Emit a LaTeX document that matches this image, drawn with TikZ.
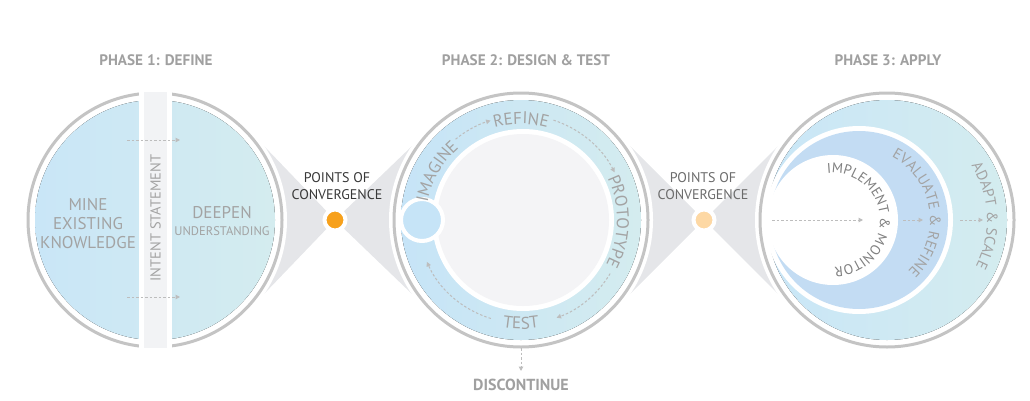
\documentclass[tikz,border=0pt]{standalone}
\usepackage{fontspec}
\setmainfont{PT Sans}
\usetikzlibrary{arrows.meta,decorations.text}

\definecolor{ringgray}{HTML}{C4C4C4}
\definecolor{wedgegray}{HTML}{E5E6E9}
\definecolor{labgray}{HTML}{A3A3A3}
\definecolor{titlegray}{HTML}{A0A0A0}
\definecolor{flowgray}{HTML}{BDBDBD}
\definecolor{skyblue}{HTML}{C9E6F7}
\definecolor{tealblue}{HTML}{D4ECEF}
\definecolor{midblue}{HTML}{C3DCF3}
\definecolor{bandgray}{HTML}{F2F3F5}
\definecolor{coregray}{HTML}{F4F4F6}
\definecolor{dotorange}{HTML}{F7A11C}
\definecolor{dotpeach}{HTML}{FDD8A4}
\definecolor{bubble}{HTML}{C6E4F7}

\newcommand\bigcurv{\fontsize{17}{17}\selectfont\color{labgray}}
\newcommand\smallcurv{\fontsize{15}{15}\selectfont\color{labgray}}
\newcommand\implcurv{\fontsize{14}{14}\selectfont\color{gray}}

\begin{document}
\begin{tikzpicture}[x=1pt, y=1pt,
    phasetitle/.style={font=\fontsize{15.2}{15.2}\selectfont\bfseries, text=titlegray, inner sep=0pt},
    lab/.style={text=labgray, align=center, inner sep=0pt},
    conv/.style={align=center, font=\fontsize{14}{17.5}\selectfont, inner sep=0pt},
    dot/.style={circle, draw=white, line width=4pt, minimum size=21pt, inner sep=0pt},
    ringline/.style={draw=ringgray, line width=3pt},
    flow/.style={draw=flowgray, line width=1pt, dash pattern=on 2.5pt off 2pt, -{Triangle[length=4.5pt,width=4.5pt]}},
    alongtext/.style={decorate, decoration={text along path, text align=center, text={#1}}}
]
\useasboundingbox (0,0) rectangle (1030,400);

% centres of the three phases and the two convergence points
\coordinate (p1) at (155,180);
\coordinate (p2) at (521,180);
\coordinate (p3) at (887,180);
\coordinate (c1) at (335,180);
\coordinate (c2) at (704,180);

% grey wedges behind the circles
\fill[wedgegray] (264,254) -- (c1) -- (264,106) -- cycle;
\fill[wedgegray] (412,254) -- (c1) -- (412,106) -- cycle;
\fill[wedgegray] (630,254) -- (c2) -- (630,106) -- cycle;
\fill[wedgegray] (778,254) -- (c2) -- (778,106) -- cycle;

% white halos and grey rings
\foreach \p in {p1,p2,p3} {
    \fill[white] (\p) circle (132);
    \draw[ringline] (\p) circle (127);
}

% Phase 1
\fill[left color=skyblue, right color=tealblue] (p1) circle (120);
\fill[white] (139,50) rectangle (172,310);
\fill[bandgray] (144,52) rectangle (167,308);
\node[lab, font=\fontsize{14.5}{14.5}\selectfont, rotate=90] (intent) at (155.5,182) {INTENT STATEMENT};
\node[lab, font=\fontsize{17}{19}\selectfont] (mine) at (88,176) {MINE\\EXISTING\\KNOWLEDGE};
\node[lab, font=\fontsize{17}{17}\selectfont] (deepen) at (222,187) {DEEPEN};
\node[lab, font=\fontsize{12.5}{12.5}\selectfont] (under) at (222,169) {UNDERSTANDING};
\coordinate (a1) at (127,260); \coordinate (b1) at (180,260);
\coordinate (a2) at (127,103); \coordinate (b2) at (180,103);
\draw[flow] (a1) -- (b1);
\draw[flow] (a2) -- (b2);

% Phase 2
\fill[left color=bubble, right color=tealblue] (p2) circle (120);
\fill[white] (523,180) circle (91);
\fill[coregray] (523,180) circle (86);
\filldraw[fill=bubble, draw=white, line width=4pt] (422,180) circle (21);
\path[alongtext={|\bigcurv|IMAGINE}] (p2) ++(195:95) arc (195:105:95);
\path[alongtext={|\bigcurv|REFINE}] (p2) ++(135:96) arc (135:45:96);
\path[alongtext={|\bigcurv|PROTOTYPE}] (p2) ++(45:96) arc (45:-47:96);
\path[alongtext={|\bigcurv|TEST}] (p2) ++(-125:109) arc (-125:-55:109);
\draw[flow] (p2) ++(129:104) arc (129:107:104);
\draw[flow] (p2) ++(72:105) arc (72:27:105);
\draw[flow] (p2) ++(-31:104) arc (-31:-70:104);
\draw[flow] (p2) ++(-107:103) arc (-107:-156:103);
\coordinate (dtop) at (521,52);
\coordinate (dend) at (521,29);
\draw[flow] (dtop) -- (dend);
\node[phasetitle, font=\fontsize{16}{16}\selectfont\bfseries] (disc) at (521,15) {DISCONTINUE};

% Phase 3
\fill[left color=skyblue, right color=tealblue] (p3) circle (120);
\fill[white] (859,180) circle (94);
\fill[midblue] (859,180) circle (89);
\fill[white] (833,180) circle (65);
\path[alongtext={|\implcurv|IMPLEMENT {\&} MONITOR}] (833,180) ++(104:47) arc (104:-96:47);
\path[alongtext={|\smallcurv|EVALUATE {\&} REFINE}] (859,180) ++(78:71) arc (78:-62:71);
\path[alongtext={|\smallcurv|ADAPT {\&} SCALE}] (p3) ++(50:100) arc (50:-45:100);
\coordinate (a3) at (772,180); \coordinate (b3) at (863,180);
\coordinate (a4) at (903,180); \coordinate (b4) at (923,180);
\coordinate (a5) at (960,180); \coordinate (b5) at (983,180);
\draw[flow] (a3) -- (b3);
\draw[flow] (a4) -- (b4);
\draw[flow] (a5) -- (b5);

% convergence points
\node[dot, fill=dotorange] (d1) at (c1) {};
\node[dot, fill=dotpeach] (d2) at (c2) {};
\node[conv, text=black!78] (conv1) at (337,214) {POINTS OF\\CONVERGENCE};
\node[conv, text=black!58] (conv2) at (703,214) {POINTS OF\\CONVERGENCE};

% titles
\node[phasetitle] (t1) at (156,340) {PHASE 1: DEFINE};
\node[phasetitle] (t2) at (526,340) {PHASE 2: DESIGN \& TEST};
\node[phasetitle] (t3) at (888,340) {PHASE 3: APPLY};
\end{tikzpicture}
\end{document}
